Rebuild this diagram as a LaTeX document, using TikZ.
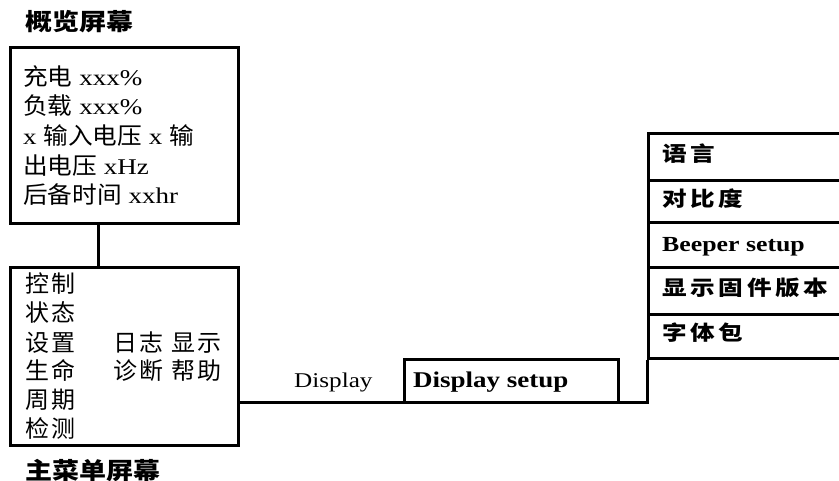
\documentclass[tikz,border=0pt]{standalone}
\usepackage{fontspec}
\setmainfont{Liberation Serif}[FakeStretch=1.2]
\newfontfamily\cjkbody{Noto Sans CJK SC}[FakeStretch=1.05]
\newfontfamily\cjkmenu{Noto Sans CJK SC}[FakeStretch=1.02,LetterSpace=10]
\newfontfamily\cjktitle{Noto Sans CJK SC}[FakeStretch=1.15]
\newfontfamily\cjkpanel{Noto Sans CJK SC}[FakeStretch=1.2,LetterSpace=18]
\newcommand\zhb[1]{{\fontsize{23.5pt}{24pt}\selectfont\cjkbody #1}}
\tikzset{
  box/.style={draw, line width=3pt, inner sep=0pt, anchor=north west},
  row/.style={draw, line width=3pt, inner sep=0pt, anchor=north west, minimum width=200pt},
  wire/.style={line width=3pt},
  txt/.style={anchor=base west, inner sep=0pt, font=\fontsize{22.5pt}{24pt}\selectfont},
  menutxt/.style={anchor=base west, inner sep=0pt, font=\fontsize{23.5pt}{24pt}\selectfont\cjkmenu},
  ttl/.style={anchor=base west, inner sep=0pt, font=\fontsize{23.5pt}{26pt}\selectfont\cjktitle\bfseries},
  paneltxt/.style={anchor=base west, inner sep=0pt, font=\fontsize{20.5pt}{22pt}\selectfont\cjkpanel\bfseries},
}
\begin{document}
\begin{tikzpicture}[x=1pt,y=-1pt]
\useasboundingbox (0,0) rectangle (839,481);
% overview screen
\node[ttl] (t1) at (25,31) {概览屏幕};
\node[box, minimum width=228pt, minimum height=176pt] (ov) at (9,46) {};
\node[txt] (o1) at (23,86) {\zhb{充电} xxx\%};
\node[txt] (o2) at (23,115) {\zhb{负载} xxx\%};
\node[txt] (o3) at (23,145) {x \zhb{输入电压} x \zhb{输}};
\node[txt] (o4) at (23,175) {\zhb{出电压} xHz};
\node[txt] (o5) at (23,204) {\zhb{后备时间} xxhr};
% main menu
\node[box, minimum width=228pt, minimum height=178pt] (mm) at (9,266) {};
\coordinate (s1) at (98,222);
\coordinate (s2) at (98,266);
\draw[wire] (s1) -- (s2);
\node[menutxt] (m1) at (25,293) {控制};
\node[menutxt] (m2) at (25,322) {状态};
\node[menutxt] (m3) at (25,352) {设置};
\node[menutxt] (m4) at (25,380) {生命};
\node[menutxt] (m5) at (25,409) {周期};
\node[menutxt] (m6) at (25,437) {检测};
\node[menutxt] (m7) at (113,352) {日志 显示};
\node[menutxt] (m8) at (113,380) {诊断 帮助};
\node[ttl] (t2) at (25,479) {主菜单屏幕};
% display branch
\node[box, minimum width=214pt, minimum height=43pt] (ds) at (403,358) {};
\node[txt, font=\fontsize{21pt}{24pt}\selectfont] (dl) at (294,388) {Display};
\node[txt, font=\fontsize{22.5pt}{24pt}\selectfont\bfseries] (dst) at (413,388) {Display setup};
% right panel
\node[row, minimum height=47pt] (r1) at (647,132) {};
\node[row, minimum height=42pt] (r2) at (647,179) {};
\node[row, minimum height=45pt] (r3) at (647,221) {};
\node[row, minimum height=47pt] (r4) at (647,266) {};
\node[row, minimum height=44pt] (r5) at (647,313) {};
\node[paneltxt] (p1) at (662,162) {语言};
\node[paneltxt] (p2) at (662,207) {对比度};
\node[txt, font=\fontsize{21.5pt}{22pt}\selectfont\bfseries] (p3) at (662,252) {Beeper setup};
\node[paneltxt] (p4) at (662,296) {显示固件版本};
\node[paneltxt] (p5) at (662,341) {字体包};
% connector
\coordinate (j1) at (237,402);
\coordinate (j2) at (647,402);
\draw[wire] (j1) -- (j2) -- (r5.south west);
\end{tikzpicture}
\end{document}
